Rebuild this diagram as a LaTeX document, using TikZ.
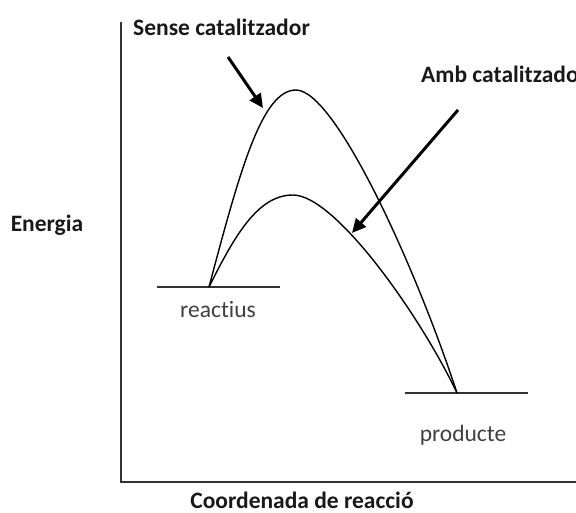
\documentclass[tikz,border=0pt]{standalone}
\usepackage{fontspec}
\setmainfont{Carlito}[RawFeature=-liga]
\usetikzlibrary{arrows.meta}
\begin{document}
\begin{tikzpicture}[x=1pt,y=-1pt,
  axisline/.style={line width=1.6pt,draw=black!80},
  level/.style={line width=1.6pt,draw=black!80},
  curve/.style={line width=1.4pt,draw=black},
  pointer/.style={line width=3pt,-{Triangle[length=14pt,width=13pt]}},
  boldlab/.style={font=\fontsize{23.5}{26}\selectfont\bfseries,text=black!90,inner sep=0pt},
  lab/.style={font=\fontsize{23.5}{26}\selectfont,text=black!75,inner sep=0pt}]
\useasboundingbox (0,0) rectangle (576,513);
% axes
\coordinate (top) at (121,22);
\coordinate (origin) at (121,482);
\coordinate (right) at (576,482);
\draw[axisline] (top) -- (origin) -- (right);
% levels
\coordinate (rL) at (157,287);
\coordinate (rR) at (280,287);
\coordinate (r) at (209,287);
\coordinate (pL) at (405,393);
\coordinate (pR) at (528,393);
\coordinate (p) at (457,393);
\draw[level] (rL) -- (rR);
\draw[level] (pL) -- (pR);
% curves
\coordinate (peak1) at (296,90);
\coordinate (peak2) at (293,195);
\draw[curve] (r) .. controls (240,170) and (262,90) .. (peak1)
  .. controls (335,90) and (415,265) .. (p);
\draw[curve] (r) .. controls (235,235) and (258,195) .. (peak2)
  .. controls (335,195) and (420,315) .. (p);
% labels
\node[boldlab,anchor=west] (sense) at (133,27) {Sense catalitzador};
\node[boldlab,anchor=west] (amb) at (421,74) {Amb catalitzador};
\node[boldlab] (energia) at (47,225) {Energia};
\node[boldlab] (coord) at (302,500) {Coordenada de reacció};
\node[lab] (reac) at (218,310) {reactius};
\node[lab] (prod) at (463,435) {producte};
% pointer arrows
\coordinate (a1s) at (228,57);
\coordinate (a1e) at (263,108);
\coordinate (a2s) at (458,110);
\coordinate (a2e) at (352,233);
\draw[pointer] (a1s) -- (a1e);
\draw[pointer] (a2s) -- (a2e);
\end{tikzpicture}
\end{document}
